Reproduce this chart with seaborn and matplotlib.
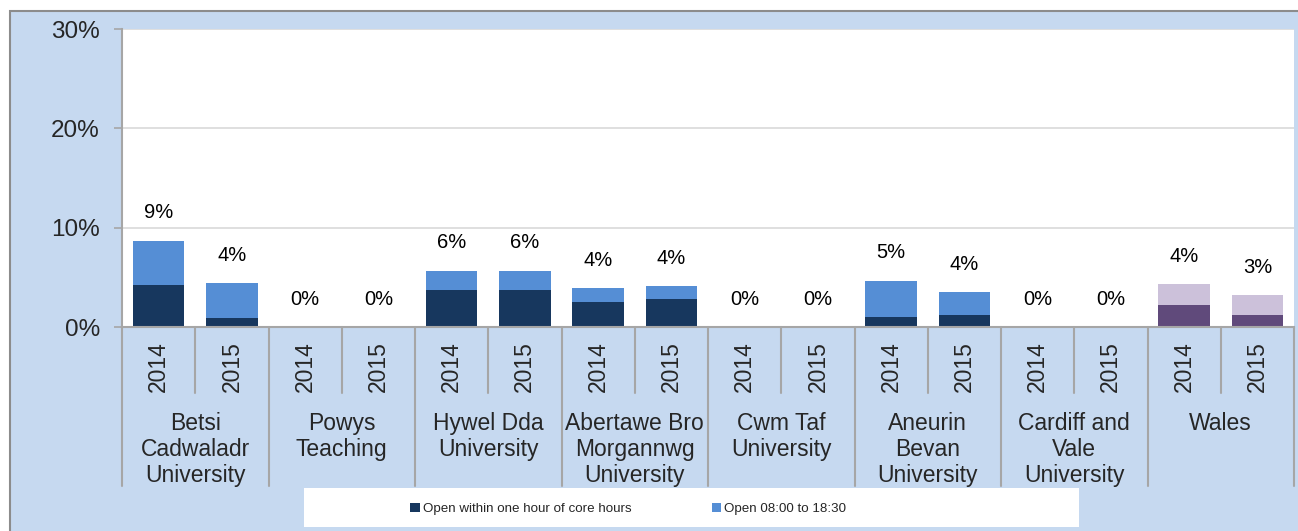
import pandas as pd
import matplotlib.pyplot as plt
import matplotlib.transforms as mtransforms
from matplotlib.patches import Rectangle, Patch
import seaborn as sns

# data (percent of practices)
boards = ["Betsi\nCadwaladr\nUniversity", "Powys\nTeaching", "Hywel Dda\nUniversity",
          "Abertawe Bro\nMorgannwg\nUniversity", "Cwm Taf\nUniversity", "Aneurin\nBevan\nUniversity",
          "Cardiff and\nVale\nUniversity", "Wales"]
years = ["2014", "2015"]
# "Open 08:00 to 18:30" total height of each stack
open_0800_1830 = [8.69, 4.45, 0, 0, 5.67, 5.67, 3.93, 4.10, 0, 0, 4.66, 3.52, 0, 0, 4.33, 3.22]
# "Open within one hour of core hours"
open_core_hour = [4.26, 0.88, 0, 0, 3.73, 3.73, 2.55, 2.80, 0, 0, 1.04, 1.24, 0, 0, 2.22, 1.21]

bg_blue = "#C6D9F0"
navy = "#17375E"
light_blue = "#558ED5"
purple_dark = "#604A7B"
purple_light = "#CCC1DA"
grey = "#A6A6A6"

rows = []
for i, b in enumerate(boards):
    for j, y in enumerate(years):
        k = i * 2 + j
        rows.append({"key": f"{i}-{y}", "board": b, "year": y,
                     "total": open_0800_1830[k], "core": open_core_hour[k]})
df = pd.DataFrame(rows)
order = list(df["key"])
is_wales = df["board"] == "Wales"
pal_light = {k: (purple_light if w else light_blue) for k, w in zip(df["key"], is_wales)}
pal_dark = {k: (purple_dark if w else navy) for k, w in zip(df["key"], is_wales)}

sns.set_theme(style="white")
plt.rcParams["font.family"] = ["Liberation Sans", "DejaVu Sans"]

fig = plt.figure(figsize=(12.98, 5.31), dpi=100)
fig.patch.set_facecolor("white")
W, H = 1298, 531

# blue outer frame (behind everything)
fig.patches.append(Rectangle((10 / W, -0.1), 1.2, 1 - 11 / H + 0.1, transform=fig.transFigure,
                             facecolor=bg_blue, edgecolor="#8C8C8C", lw=1.5, zorder=-10))
# white legend box
fig.patches.append(Rectangle((304 / W, 1 - 527 / H), 775 / W, 39 / H, transform=fig.transFigure,
                             facecolor="white", edgecolor="none", zorder=-5))

ax = fig.add_axes([122 / W, 1 - 327 / H, (1294 - 122) / W, (327 - 29) / H])
ax.set_facecolor("white")

sns.barplot(data=df, x="key", y="total", hue="key", order=order, hue_order=order,
            palette=pal_light, legend=False, width=0.7, linewidth=0, saturation=1, ax=ax)
sns.barplot(data=df, x="key", y="core", hue="key", order=order, hue_order=order,
            palette=pal_dark, legend=False, width=0.7, linewidth=0, saturation=1, ax=ax)

for i, v in enumerate(df["total"]):
    ax.annotate(f"{round(v)}%", xy=(i, v), xytext=(0, 20), textcoords="offset points",
                ha="center", va="center", fontsize=14.5, color="black")

ax.set_ylim(0, 30)
ax.set_xlim(-0.5, len(order) - 0.5)
ax.set_yticks([0, 10, 20, 30])
ax.set_yticklabels([f"{t}%" for t in [0, 10, 20, 30]], fontsize=17.5)
ax.yaxis.grid(True, color="#D9D9D9", lw=1.2)
ax.set_axisbelow(True)
ax.tick_params(axis="y", length=6, color=grey, width=1.2, pad=10, left=True)
ax.tick_params(axis="x", length=0, pad=10)
ax.set_xticks(range(len(order)))
ax.set_xticklabels(df["year"], rotation=90, fontsize=16.5)
ax.set_xlabel("")
ax.set_ylabel("")
for s in ["top", "right"]:
    ax.spines[s].set_visible(False)
for s in ["left", "bottom"]:
    ax.spines[s].set_color(grey)
    ax.spines[s].set_linewidth(1.5)

# multi-level category axis: separators and board names
ax_h = 327 - 29
trans = mtransforms.blended_transform_factory(ax.transData, ax.transAxes)
for i in range(len(boards) + 1):
    ax.plot([i * 2 - 0.5] * 2, [0, -(486 - 327) / ax_h], transform=trans, color=grey,
            lw=1.5, clip_on=False)
for i in range(len(boards)):
    ax.plot([i * 2 + 0.5] * 2, [0, -(393 - 327) / ax_h], transform=trans, color=grey,
            lw=1.5, clip_on=False)
    ax.text(i * 2 + 0.5, -(412 - 327) / ax_h, boards[i], transform=trans, ha="center",
            va="top", fontsize=16.5, linespacing=1.17)

handles = [Patch(facecolor=navy, edgecolor="none"), Patch(facecolor=light_blue, edgecolor="none")]
fig.legend(handles, ["Open within one hour of core hours", "Open 08:00 to 18:30"],
           loc="center left", bbox_to_anchor=(405 / W, 1 - 509 / H), ncol=2, frameon=False,
           fontsize=9.6, handlelength=0.7, handleheight=0.7, handletextpad=0.25,
           columnspacing=6.0, borderaxespad=0)

fig.savefig("out.png", dpi=100, facecolor=fig.get_facecolor())
